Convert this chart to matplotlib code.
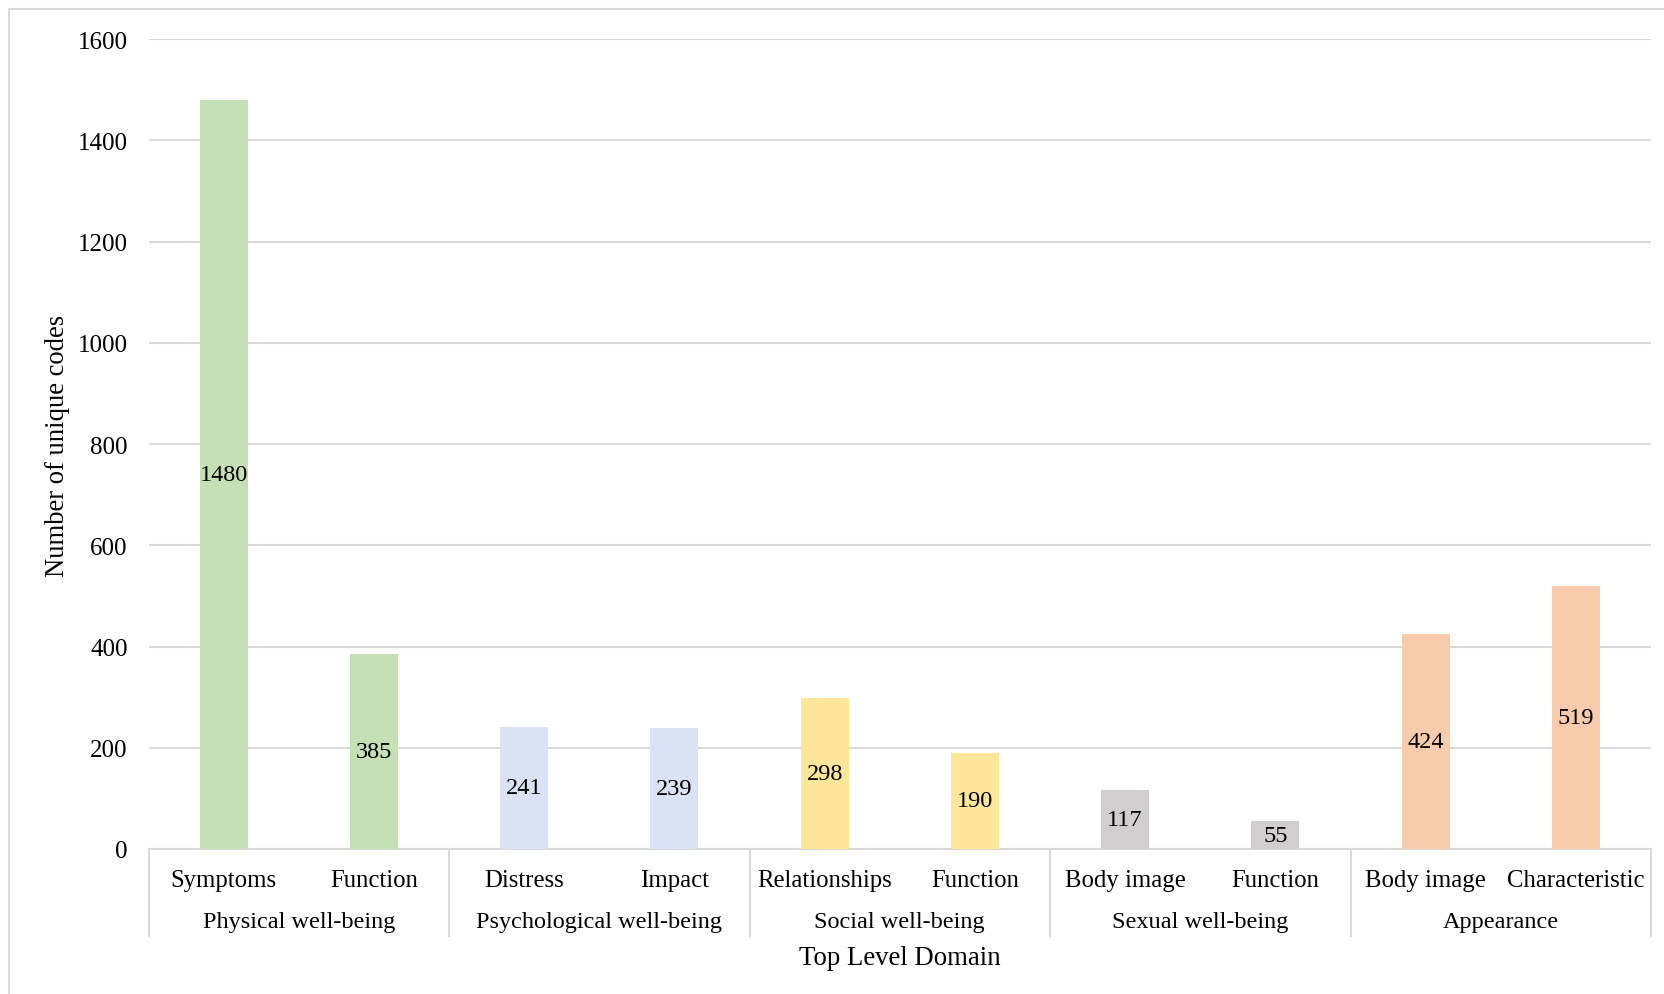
import matplotlib.pyplot as plt
from matplotlib.patches import Rectangle
import matplotlib.transforms as mtransforms

# sub-domain counts, grouped by top level domain
subdomains = ['Symptoms', 'Function', 'Distress', 'Impact', 'Relationships',
              'Function', 'Body image', 'Function', 'Body image', 'Characteristic']
counts = [1480, 385, 241, 239, 298, 190, 117, 55, 424, 519]
domains = ['Physical well-being', 'Psychological well-being', 'Social well-being',
           'Sexual well-being', 'Appearance']
domain_sizes = [2, 2, 2, 2, 2]
domain_colors = ['#C5E0B4', '#DAE3F3', '#FFE699', '#D0CECE', '#F8CBAD']
yticks = [0, 200, 400, 600, 800, 1000, 1200, 1400, 1600]

plt.rcParams['font.family'] = ['Liberation Serif', 'DejaVu Serif']
plt.rcParams['font.size'] = 17.5

fig = plt.figure(figsize=(16.64, 9.95), dpi=100)
ax = fig.add_axes([148.6 / 1664, 1 - 850 / 995, (1651 - 148.6) / 1664, 810 / 995])

colors = []
for c, n in zip(domain_colors, domain_sizes):
    colors += [c] * n

xs = list(range(len(counts)))
bars = ax.bar(xs, counts, width=0.32, color=colors, zorder=3)
ax.bar_label(bars, labels=[str(v) for v in counts], label_type='center',
             fontsize=17.5, color='black', zorder=4)

ax.set_xlim(-0.5, len(counts) - 0.5)
ax.set_ylim(0, 1600)
ax.set_yticks(yticks)
ax.yaxis.grid(True, color='#D9D9D9', linewidth=1.5, zorder=0)
ax.tick_params(axis='y', length=0, pad=15, labelsize=18)
ax.set_xticks(xs)
ax.set_xticklabels([])
ax.tick_params(axis='x', length=0)

for side in ['top', 'right', 'left']:
    ax.spines[side].set_visible(False)
ax.spines['bottom'].set_color('#D9D9D9')
ax.spines['bottom'].set_linewidth(1.5)

trans = mtransforms.blended_transform_factory(ax.transData, ax.transAxes)

# sub-domain labels
for x, lab in zip(xs, subdomains):
    ax.text(x, -0.038, lab, transform=trans, ha='center', va='center', fontsize=17.8)

# domain labels and separators
start = 0
bounds = [-0.5]
for name, n in zip(domains, domain_sizes):
    mid = start + (n - 1) / 2
    ax.text(mid, -0.09, name, transform=trans, ha='center', va='center', fontsize=17.5)
    start += n
    bounds.append(start - 0.5)
for b in bounds:
    ax.plot([b, b], [0, -0.107], transform=trans, color='#D9D9D9',
            linewidth=1.5, clip_on=False)

ax.text(0.5, -0.134, 'Top Level Domain', transform=ax.transAxes,
        ha='center', va='center', fontsize=19.3)
ax.set_ylabel('Number of unique codes', fontsize=19.2)
ax.yaxis.set_label_coords(-(148.6 - 70) / 1502.4, (850 - 446) / 810)

# chart area border
fig.patches.append(Rectangle((9 / 1664, -0.05), 1.1, 1 - 10 / 995 + 0.05,
                             transform=fig.transFigure, fill=False,
                             edgecolor='#D9D9D9', linewidth=1.5))

fig.savefig('out.png', dpi=100)
